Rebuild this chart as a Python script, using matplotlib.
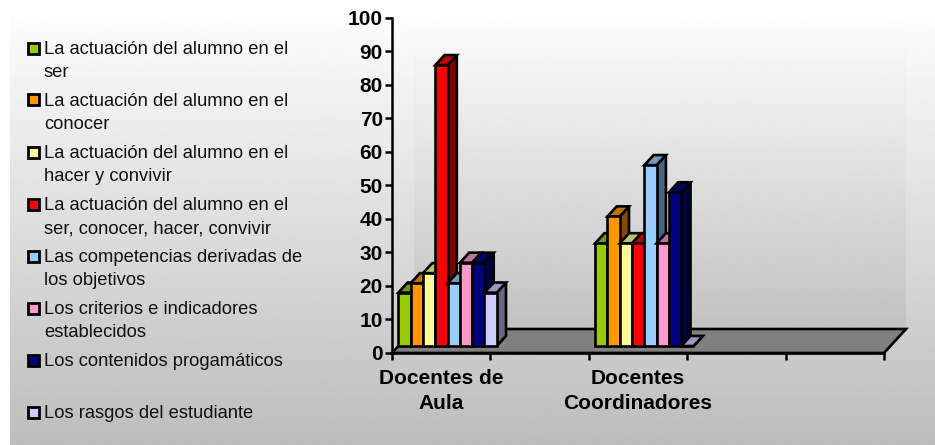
import numpy as np
import matplotlib
matplotlib.use("Agg")
import matplotlib.pyplot as plt
from matplotlib.patches import Polygon, Rectangle
from matplotlib.colors import to_rgb

categories = ["Docentes de\nAula", "", "Docentes\nCoordinadores", "", ""]
series_names = [
    "La actuación del alumno en el\nser",
    "La actuación del alumno en el\nconocer",
    "La actuación del alumno en el\nhacer y convivir",
    "La actuación del alumno en el\nser, conocer, hacer, convivir",
    "Las competencias derivadas de\nlos objetivos",
    "Los criterios e indicadores\nestablecidos",
    "Los contenidos progamáticos",
    "Los rasgos del estudiante",
]
colors = ["#99CC00", "#FF9900", "#FFFF99", "#FF0000", "#99CCFF", "#FF99CC", "#000080", "#CCCCFF"]
docentes_aula = [18, 20.8, 23.8, 85.8, 20.8, 26.9, 26.9, 18]
docentes_coord = [32.7, 40.7, 32.7, 32.7, 56, 32.7, 47.9, 0]
y_ticks = list(range(0, 101, 10))

W, H = 935, 445
fig = plt.figure(figsize=(W / 100, H / 100), dpi=100, facecolor="white")
plt.rcParams["font.family"] = ["Liberation Sans", "DejaVu Sans"]

def px_axes(x0, y0, x1, y1, z=0):
    return fig.add_axes([x0 / W, 1 - y1 / H, (x1 - x0) / W, (y1 - y0) / H], zorder=z)

def gradient(ax, top, bottom):
    ax.set_axis_off()
    g = np.linspace(top, bottom, 256)[:, None]
    ax.imshow(g, cmap="gray", vmin=0, vmax=1, aspect="auto", interpolation="bilinear")

gradient(px_axes(10, 0, W, H, 0), 1.0, 0.74)
gradient(px_axes(414, 30, 906, 329, 1), 0.98, 0.76)

ax = px_axes(392, 17.5, 884, 353, 3)
ax.set_xlim(0, 5)
ax.set_ylim(0, 100)
ax.patch.set_alpha(0)
for s in ("top", "right"):
    ax.spines[s].set_visible(False)
for s in ("left", "bottom"):
    ax.spines[s].set_linewidth(1.8)
    ax.spines[s].set_zorder(20)
ax.set_yticks(y_ticks)
ax.set_xticks(range(6))
ax.set_xticklabels([])
ax.tick_params(axis="y", length=5, width=1.8, labelsize=15, pad=1.5)
ax.tick_params(axis="x", length=5, width=1.8)
for t in ax.get_yticklabels():
    t.set_fontweight("bold")
for i, c in enumerate(categories):
    if c:
        ax.text(i + 0.5, -4.7, c, ha="center", va="top", fontsize=15, fontweight="bold",
                linespacing=1.4)

# oblique depth of the floor in data units
DX, DY = 22 / 98.4, 24 / (335.5 / 100)
front, back = 0.29, 0.71
lw = 1.9

ax.add_patch(Polygon([(0, 0), (5, 0), (5 + DX, DY), (DX, DY)], closed=True, fc="#808080",
                     ec="black", lw=lw, clip_on=False, zorder=2))

def shade(c, f):
    return tuple(v * f for v in to_rgb(c))

n = len(colors)
bw = 1 / n
for cat, vals in ((0, docentes_aula), (2, docentes_coord)):
    for i, (v, c) in enumerate(zip(vals, colors)):
        x0 = cat + i * bw + DX * front
        x1 = x0 + bw
        base = DY * front
        top = max(v, base)
        dx, dy = DX * (back - front), DY * (back - front)
        z = 5 + cat * 10 + i
        ax.add_patch(Polygon([(x1, base), (x1 + dx, base + dy), (x1 + dx, top + dy), (x1, top)],
                             fc=shade(c, 0.5), ec="black", lw=lw, clip_on=False, zorder=z))
        ax.add_patch(Polygon([(x0, top), (x1, top), (x1 + dx, top + dy), (x0 + dx, top + dy)],
                             fc=shade(c, 0.75), ec="black", lw=lw, clip_on=False, zorder=z))
        ax.bar(x0, top - base, bw, bottom=base, align="edge", color=c, edgecolor="black",
               linewidth=lw, clip_on=False, zorder=z)

# legend
leg = px_axes(0, 0, W, H, 4)
leg.set_xlim(0, W)
leg.set_ylim(H, 0)
leg.set_axis_off()
leg.patch.set_alpha(0)
legend_y = [48, 99.5, 152, 204, 256, 308, 360, 412]
for name, c, y in zip(series_names, colors, legend_y):
    leg.add_patch(Rectangle((27.5, y - 5.5), 11, 11, fc=c, ec="black", lw=2))
    leg.text(44, y - 7, name, fontsize=13.26, va="top", ha="left", linespacing=1.48, color="#111111")

fig.savefig("out.png", dpi=100)
